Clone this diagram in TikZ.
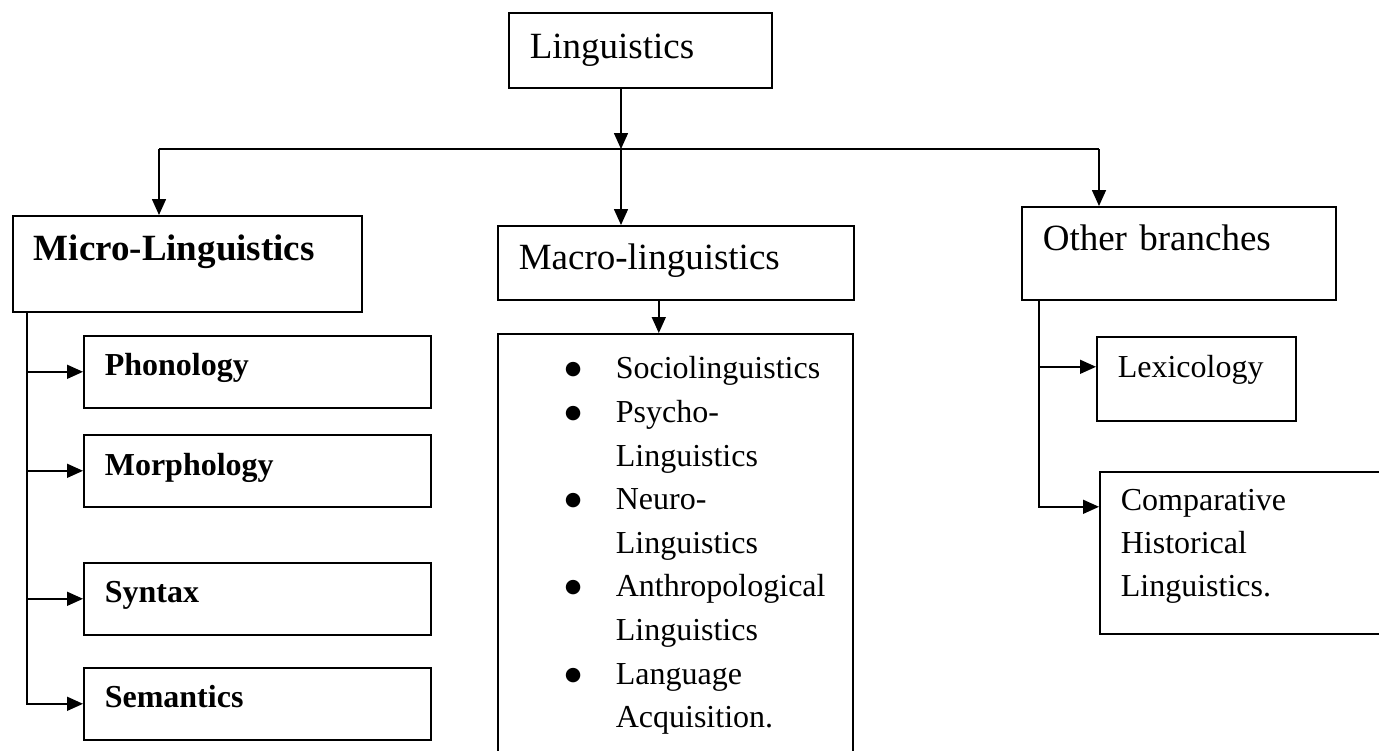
\documentclass[tikz,border=0pt]{standalone}
\usepackage{fontspec}
\setmainfont{Liberation Serif}
\newfontfamily\symfont{DejaVu Sans}
\usetikzlibrary{arrows.meta}

\tikzset{
  box/.style={draw, line width=1.6pt, anchor=north west, inner xsep=21pt, inner ysep=0pt, align=left},
  big/.style={font=\fontsize{37}{44}\selectfont},
  small/.style={font=\fontsize{32}{43.6}\selectfont},
  link/.style={line width=1.6pt},
  arr/.style={line width=1.6pt, -{Triangle[length=16pt,width=14pt]}}
}
\newcommand{\bulitem}[1]{\hspace*{67pt}\makebox[51pt][l]{\raisebox{4pt}{\symfont\fontsize{19}{19}\selectfont ●}}#1}
\newcommand{\bulcont}[1]{\hspace*{118pt}#1}

\begin{document}
\begin{tikzpicture}[x=1pt,y=-1pt]
\clip (0,0) rectangle (1379,750);

%top node
\node[box, big, text width=221pt, text height=46pt, text depth=29pt] (ling) at (508,12) {Linguistics};

%the three main branches
\node[box, big, text width=307pt, text height=45pt, text depth=51pt] (micro) at (12,215) {\textbf{Micro-Linguistics}};
\node[box, big, text width=314pt, text height=44pt, text depth=30pt] (macro) at (497,225) {Macro-linguistics};
\node[box, big, text width=272pt, text height=44pt, text depth=49pt] (other) at (1021,206) {Other branches};

%micro-linguistics parts
\node[box, small, text width=305pt, text height=40pt, text depth=32pt] (phon) at (83,335) {\textbf{Phonology}};
\node[box, small, text width=305pt, text height=41pt, text depth=31pt] (morph) at (83,434) {\textbf{Morphology}};
\node[box, small, text width=305pt, text height=40pt, text depth=32pt] (syn) at (83,562) {\textbf{Syntax}};
\node[box, small, text width=305pt, text height=40pt, text depth=32pt] (sem) at (83,667) {\textbf{Semantics}};

%macro-linguistics list
\node[box, small, inner xsep=0pt, text width=355pt, text height=45pt, text depth=382pt] (list) at (497,333)
  {\bulitem{Sociolinguistics}\\ \bulitem{Psycho-}\\ \bulcont{Linguistics}\\
   \bulitem{Neuro-}\\ \bulcont{Linguistics}\\ \bulitem{Anthropological}\\
   \bulcont{Linguistics}\\ \bulitem{Language}\\ \bulcont{Acquisition.}};

%other branches
\node[box, small, text width=157pt, text height=41pt, text depth=43pt] (lex) at (1096,336) {Lexicology};
\node[box, small, font=\fontsize{32}{43}\selectfont, text width=279pt, text height=39pt, text depth=123pt] (comp) at (1099,471)
  {Comparative\\ Historical\\ Linguistics.};

%connectors from the top
\coordinate (split) at (621,149);
\coordinate (lend) at (159,149);
\coordinate (rend) at (1099,149);
\draw[arr] (ling.south -| split) -- (split);
\draw[link] (lend) -- (rend);
\draw[arr] (lend) -- (lend |- micro.north);
\draw[arr] (split) -- (split |- macro.north);
\draw[arr] (rend) -- (rend |- other.north);
\draw[arr] ([xshift=-17pt]macro.south) -- ([xshift=-17pt]macro.south |- list.north);

%side branches
\coordinate (mtrunk) at ([xshift=15pt]micro.south west);
\foreach \n in {phon,morph,syn,sem}
  \draw[arr] (mtrunk) |- (\n.west);
\coordinate (otrunk) at ([xshift=18pt]other.south west);
\draw[arr] (otrunk) |- ([yshift=12pt]lex.west);
\draw[arr] (otrunk) |- ([yshift=46pt]comp.west);

\end{tikzpicture}
\end{document}
